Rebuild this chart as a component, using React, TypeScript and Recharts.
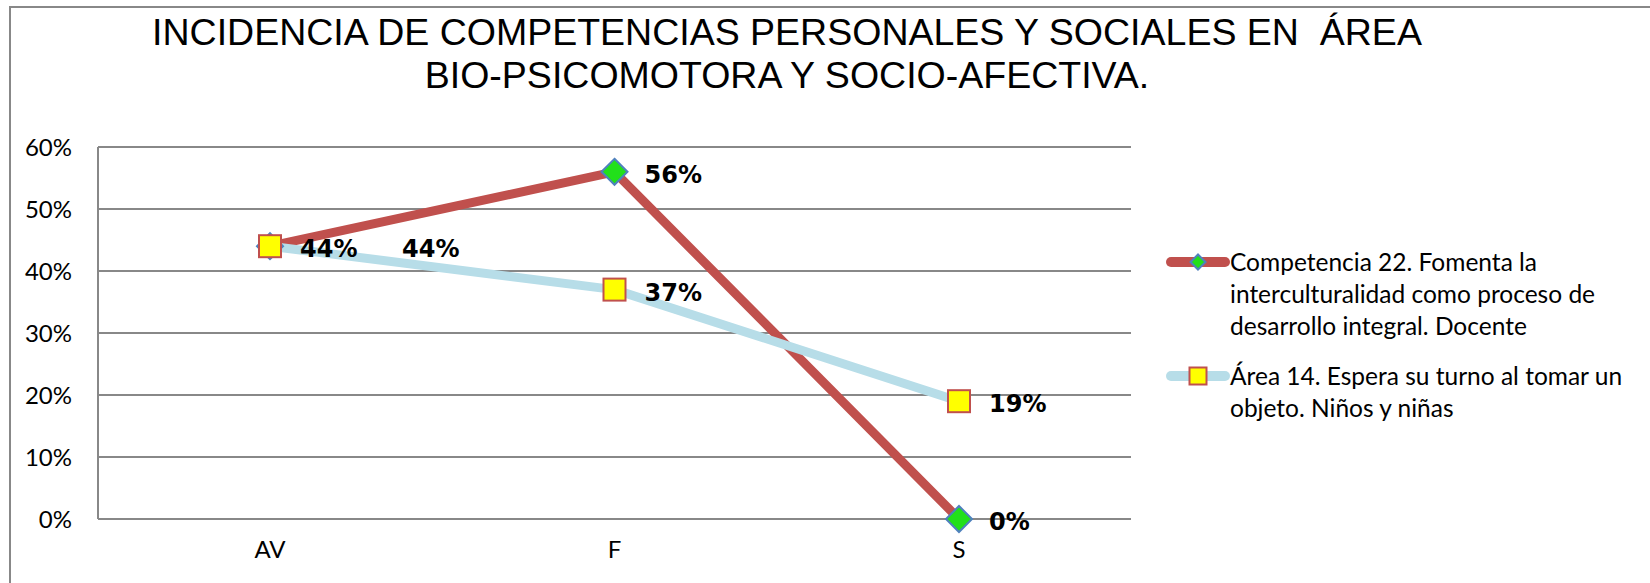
import { LineChart, Line, XAxis, YAxis, CartesianGrid, Legend, LabelList } from "recharts";

// categories and series values (percent)
const categories = ["AV", "F", "S"];
const docente = [44, 56, 0];
const ninos = [44, 37, 19];
const yTicks = [0, 10, 20, 30, 40, 50, 60];

const titleLines = [
  "INCIDENCIA DE COMPETENCIAS PERSONALES Y SOCIALES EN  ÁREA",
  "BIO-PSICOMOTORA Y SOCIO-AFECTIVA.",
];
const docenteName = [
  "Competencia 22. Fomenta la",
  "interculturalidad como proceso de",
  "desarrollo integral. Docente",
];
const ninosName = ["Área 14. Espera su turno al tomar un", "objeto. Niños y niñas"];

const data = categories.map((cat, i) => ({ cat, docente: docente[i], ninos: ninos[i] }));

const RED = "#c0504d";
const BLUE = "#b7dde8";
const GRID = "#888888";
const TICK_FONT = "Lato, 'Open Sans', sans-serif";

function Diamond({ cx, cy, r = 13 }: { cx: number; cy: number; r?: number }) {
  return (
    <path
      d={`M${cx},${cy - r}L${cx + r},${cy}L${cx},${cy + r}L${cx - r},${cy}Z`}
      fill="#22e01a"
      stroke="#4f81bd"
      strokeWidth={2}
    />
  );
}

function Square({ cx, cy, s = 11 }: { cx: number; cy: number; s?: number }) {
  return (
    <rect x={cx - s} y={cy - s} width={s * 2} height={s * 2} fill="#ffff00" stroke={RED} strokeWidth={2} />
  );
}

// data label: right of the point; the red AV label sits further out because it overlaps the blue one
const makeLabel = (series: "docente" | "ninos") => (props: any) => {
  const { x, y, value, index } = props;
  const dx = series === "docente" && index === 0 ? 132 : 30;
  return (
    <text
      key={`${series}-${index}`}
      x={x + dx}
      y={y + 3}
      dominantBaseline="central"
      fontFamily="'DejaVu Sans', sans-serif"
      fontWeight="bold"
      fontSize={24}
      fill="#000"
    >
      {`${value}%`}
    </text>
  );
};

function LegendSymbol({ kind }: { kind: "docente" | "ninos" }) {
  return (
    <svg width={64} height={32} style={{ flex: "none" }}>
      <line x1={5} y1={16} x2={59} y2={16} stroke={kind === "docente" ? RED : BLUE} strokeWidth={10} strokeLinecap="round" />
      {kind === "docente" ? <Diamond cx={32} cy={16} r={7.5} /> : <Square cx={32} cy={16} s={8.5} />}
    </svg>
  );
}

const renderLegend = () => (
  <div style={{ fontFamily: TICK_FONT, fontSize: 24.5, lineHeight: "32px", color: "#000" }}>
    <div style={{ display: "flex", marginBottom: 18 }}>
      <LegendSymbol kind="docente" />
      <div>
        {docenteName.map((l) => (
          <div key={l} style={{ whiteSpace: "nowrap" }}>{l}</div>
        ))}
      </div>
    </div>
    <div style={{ display: "flex" }}>
      <LegendSymbol kind="ninos" />
      <div>
        {ninosName.map((l) => (
          <div key={l} style={{ whiteSpace: "nowrap" }}>{l}</div>
        ))}
      </div>
    </div>
  </div>
);

export default function App() {
  return (
    <div style={{ position: "relative", width: 1650, height: 583, overflow: "hidden", background: "#fff" }}>
      <style>{"body{margin:0}"}</style>
      <div
        style={{
          position: "absolute",
          left: 9,
          top: 6,
          width: 1700,
          height: 700,
          border: `2px solid ${GRID}`,
        }}
      />
      <div
        style={{
          position: "absolute",
          left: 0,
          top: 11,
          width: 1574,
          textAlign: "center",
          fontFamily: "'Liberation Sans', Arial, sans-serif",
          fontSize: 37.5,
          lineHeight: "43px",
          whiteSpace: "pre",
          color: "#000",
        }}
      >
        {titleLines.map((l) => (
          <div key={l}>{l}</div>
        ))}
      </div>
      <div style={{ position: "absolute", left: 0, top: 0 }}>
        <LineChart width={1650} height={583} data={data} margin={{ top: 147, right: 519, bottom: 0, left: 0 }}>
          <CartesianGrid vertical={false} stroke={GRID} strokeWidth={2} />
          <XAxis
            dataKey="cat"
            height={64}
            padding={{ left: 172, right: 172 }}
            axisLine={{ stroke: GRID, strokeWidth: 2 }}
            tickLine={false}
            tickSize={6}
            tickMargin={16}
            tick={{ fontFamily: TICK_FONT, fontSize: 24, fill: "#000" }}
          />
          <YAxis
            width={98}
            domain={[0, 60]}
            ticks={yTicks}
            tickFormatter={(v) => `${v}%`}
            axisLine={{ stroke: GRID, strokeWidth: 2 }}
            tickLine={false}
            tickSize={6}
            tickMargin={20}
            tick={{ fontFamily: TICK_FONT, fontSize: 24, fill: "#000" }}
          />
          <Legend
            layout="horizontal"
            verticalAlign="middle"
            align="center"
            content={renderLegend}
            wrapperStyle={{ left: 1166, top: 246, width: 480 }}
          />
          <Line
            type="linear"
            dataKey="docente"
            stroke={RED}
            strokeWidth={9}
            strokeLinejoin="round"
            isAnimationActive={false}
            dot={(p: any) => <Diamond key={`d-${p.index}`} cx={p.cx} cy={p.cy} />}
            activeDot={false}
          >
            <LabelList dataKey="docente" content={makeLabel("docente")} />
          </Line>
          <Line
            type="linear"
            dataKey="ninos"
            stroke={BLUE}
            strokeWidth={9}
            strokeLinejoin="round"
            isAnimationActive={false}
            dot={(p: any) => <Square key={`s-${p.index}`} cx={p.cx} cy={p.cy} />}
            activeDot={false}
          >
            <LabelList dataKey="ninos" content={makeLabel("ninos")} />
          </Line>
        </LineChart>
      </div>
    </div>
  );
}
